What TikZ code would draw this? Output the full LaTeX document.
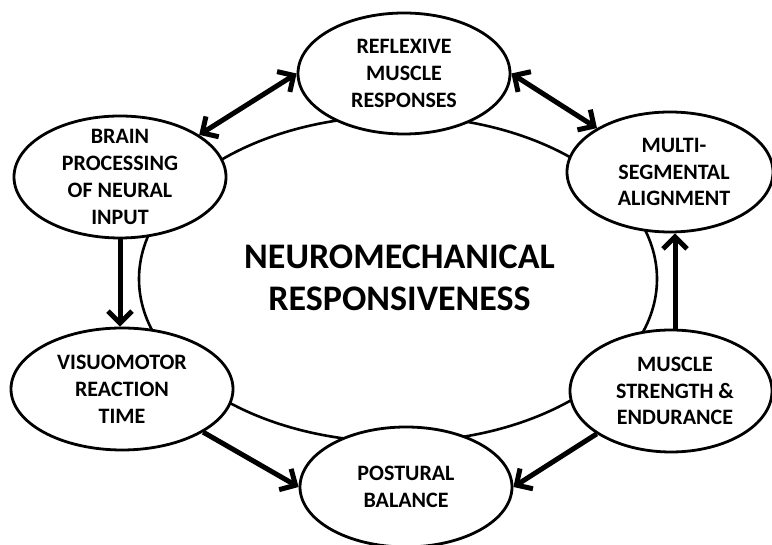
\documentclass[tikz,border=0pt]{standalone}
\usepackage{fontspec}
\setmainfont{Carlito}
\usetikzlibrary{shapes.geometric,arrows.meta}
\tikzset{
  x=1pt,y=1pt,
  bubble/.style={ellipse,draw,line width=2.8pt,fill=white,inner sep=0pt},
  bubtext/.style={align=center,inner sep=0pt,font=\bfseries\fontsize{22}{26.8}\selectfont},
  arr/.style={line width=5pt,>={Straight Barb[length=12pt,width=24pt]}},
  ring/.style={line width=2.6pt}
}
\begin{document}
\begin{tikzpicture}
\useasboundingbox (0,0) rectangle (772,545);
% central ring
\draw[ring] (398,266) ellipse [x radius=259, y radius=163];
% bubbles
\node[bubble,minimum width=212,minimum height=121] (reflex) at (404,471.5) {};
\node[bubble,minimum width=212,minimum height=122] (brain) at (120,368) {};
\node[bubble,minimum width=206,minimum height=120] (multi) at (670,373) {};
\node[bubble,minimum width=222,minimum height=122] (visuo) at (122,156) {};
\node[bubble,minimum width=202,minimum height=122] (muscle) at (671,154) {};
\node[bubble,minimum width=212,minimum height=120] (postural) at (406,58) {};
% texts
\node[bubtext] (reflexT) at (reflex) {REFLEXIVE\\MUSCLE\\RESPONSES};
\node[bubtext] (brainT) at (brain) {BRAIN\\PROCESSING\\OF NEURAL\\INPUT};
\node[bubtext] (multiT) at ([xshift=4]multi.center) {MULTI-\\SEGMENTAL\\ALIGNMENT};
\node[bubtext] (visuoT) at (visuo) {VISUOMOTOR\\REACTION\\TIME};
\node[bubtext] (muscleT) at ([xshift=4]muscle.center) {MUSCLE\\STRENGTH \&\\ENDURANCE};
\node[bubtext] (posturalT) at (postural) {POSTURAL\\BALANCE};
\node[align=center,inner sep=0pt,font=\bfseries\fontsize{36}{41.7}\selectfont] (title) at (399.5,267.25) {NEUROMECHANICAL\\RESPONSIVENESS};
% arrows
\draw[arr,<->] (brain.28) -- (reflex.180);
\draw[arr,<->] (reflex.0) -- (multi.149.5);
\draw[arr,->] (brain.south) -- (brain.south |- visuo.north);
\draw[arr,->] ([xshift=4]muscle.north) -- ([xshift=4]muscle.north |- multi.south);
\draw[arr,->] (visuo.-28) -- (postural.180);
\draw[arr,->] (muscle.210.6) -- (postural.0);
\end{tikzpicture}
\end{document}
